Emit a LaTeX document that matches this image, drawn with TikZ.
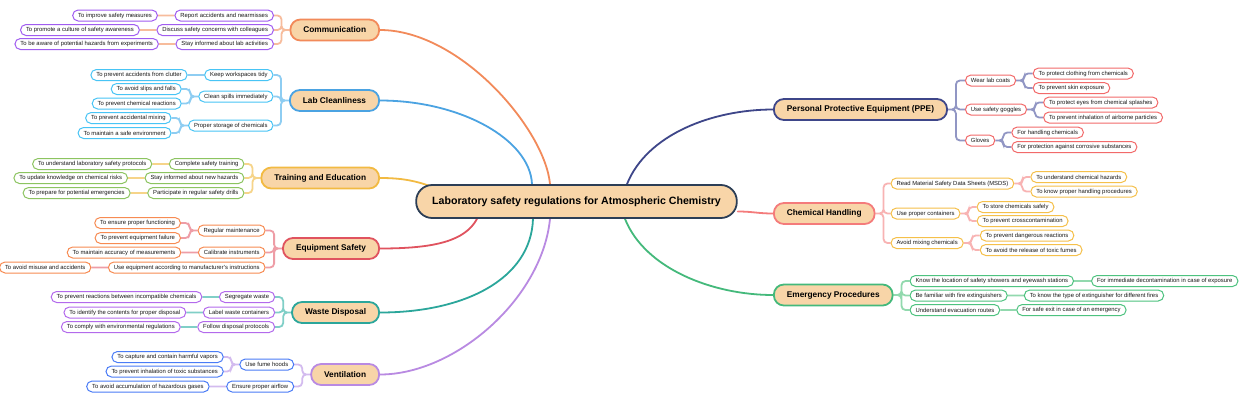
\documentclass[tikz,border=0pt]{standalone}
\usepackage{fontspec}
\setmainfont{Liberation Sans}
\usetikzlibrary{calc,backgrounds}
\definecolor{peach}{HTML}{F8D5A8}
\definecolor{rootc}{HTML}{2C3E56}
\definecolor{commc}{HTML}{F28A5A}
\definecolor{commk}{HTML}{A05CF0}
\definecolor{comml}{HTML}{F7BC9C}
\definecolor{labc}{HTML}{4BA3E2}
\definecolor{labk}{HTML}{48C4F5}
\definecolor{labl}{HTML}{8ECDF2}
\definecolor{trainc}{HTML}{F2BA42}
\definecolor{traink}{HTML}{8CC460}
\definecolor{trainl}{HTML}{F6D489}
\definecolor{equipc}{HTML}{E0535F}
\definecolor{equipk}{HTML}{F78B52}
\definecolor{equipl}{HTML}{EE9DA6}
\definecolor{wastec}{HTML}{2BA69B}
\definecolor{wastek}{HTML}{B36AEC}
\definecolor{wastel}{HTML}{80CFC7}
\definecolor{ventc}{HTML}{B98AE2}
\definecolor{ventk}{HTML}{4A7CF6}
\definecolor{ventl}{HTML}{D3BBEF}
\definecolor{ppec}{HTML}{3E4689}
\definecolor{ppek}{HTML}{F26A6A}
\definecolor{ppel}{HTML}{9196C4}
\definecolor{chemc}{HTML}{F47B7B}
\definecolor{chemk}{HTML}{F5C04A}
\definecolor{cheml}{HTML}{F8B3B3}
\definecolor{emergc}{HTML}{44B97B}
\definecolor{emergk}{HTML}{4DC27F}
\definecolor{emergl}{HTML}{92D9AE}
\begin{document}
\begin{tikzpicture}[x=1pt,y=-1pt,
  rootnode/.style={draw=rootc, fill=peach, line width=1.8pt, rounded corners=16pt,
    minimum height=33pt, inner xsep=16pt, inner ysep=0pt, text=black,
    font=\bfseries\fontsize{10.6}{12}\selectfont},
  mainnode/.style={draw=#1, fill=peach, line width=1.8pt, rounded corners=10pt,
    minimum height=21pt, inner xsep=13pt, inner ysep=0pt, text=black,
    font=\bfseries\fontsize{8.3}{10}\selectfont},
  subnode/.style={draw=#1, fill=white, line width=1pt, rounded corners=5.5pt,
    minimum height=11pt, inner xsep=5.5pt, inner ysep=0pt, text=black!90,
    font=\fontsize{5.9}{7}\selectfont},
  rootln/.style={draw=#1, line width=1.8pt, line cap=round},
  subln/.style={draw=#1, line width=1.8pt, rounded corners=4pt},
  elL/.style={to path={-- ++(-8,0) |- (\tikztotarget)}},
  elR/.style={to path={-- ++(8,0) |- (\tikztotarget)}}
]
\useasboundingbox (0,0) rectangle (1240,400);

\node[rootnode] (root) at (576.5,201.5) {Laboratory safety regulations for Atmospheric Chemistry};

% ---------- Communication
\node[mainnode=commc, anchor=east] (comm) at (380,30) {Communication};
\node[subnode=commk, anchor=east] (comm1) at ($(comm.west)+(-15.5,-14.5)$) {Report accidents and nearmisses};
\node[subnode=commk, anchor=east] (comm2) at ($(comm.west)+(-15.5,0)$) {Discuss safety concerns with colleagues};
\node[subnode=commk, anchor=east] (comm3) at ($(comm.west)+(-15.5,14)$) {Stay informed about lab activities};
\node[subnode=commk, anchor=east] (comm1a) at ($(comm1.west)+(-16.5,0)$) {To improve safety measures};
\node[subnode=commk, anchor=east] (comm2a) at ($(comm2.west)+(-16.5,0)$) {To promote a culture of safety awareness};
\node[subnode=commk, anchor=east] (comm3a) at ($(comm3.west)+(-16.5,0)$) {To be aware of potential hazards from experiments};

% ---------- Lab Cleanliness
\node[mainnode=labc, anchor=east] (lab) at (380,100.5) {Lab Cleanliness};
\node[subnode=labk, anchor=east] (lab1) at ($(lab.west)+(-15.5,-25.5)$) {Keep workspaces tidy};
\node[subnode=labk, anchor=east] (lab2) at ($(lab.west)+(-15.5,-4)$) {Clean spills immediately};
\node[subnode=labk, anchor=east] (lab3) at ($(lab.west)+(-15.5,25)$) {Proper storage of chemicals};
\node[subnode=labk, anchor=east] (lab1a) at ($(lab1.west)+(-16.5,0)$) {To prevent accidents from clutter};
\node[subnode=labk, anchor=east] (lab2a) at ($(lab2.west)+(-16.5,-7.5)$) {To avoid slips and falls};
\node[subnode=labk, anchor=east] (lab2b) at ($(lab2.west)+(-16.5,7)$) {To prevent chemical reactions};
\node[subnode=labk, anchor=east] (lab3a) at ($(lab3.west)+(-16.5,-7.5)$) {To prevent accidental mixing};
\node[subnode=labk, anchor=east] (lab3b) at ($(lab3.west)+(-16.5,7.5)$) {To maintain a safe environment};

% ---------- Training and Education
\node[mainnode=trainc, anchor=east] (train) at (380,178) {Training and Education};
\node[subnode=traink, anchor=east] (train1) at ($(train.west)+(-16,-14)$) {Complete safety training};
\node[subnode=traink, anchor=east] (train2) at ($(train.west)+(-16,0)$) {Stay informed about new hazards};
\node[subnode=traink, anchor=east] (train3) at ($(train.west)+(-16,15)$) {Participate in regular safety drills};
\node[subnode=traink, anchor=east] (train1a) at ($(train1.west)+(-16.5,0)$) {To understand laboratory safety protocols};
\node[subnode=traink, anchor=east] (train2a) at ($(train2.west)+(-16.5,0)$) {To update knowledge on chemical risks};
\node[subnode=traink, anchor=east] (train3a) at ($(train3.west)+(-16.5,0)$) {To prepare for potential emergencies};

% ---------- Equipment Safety
\node[mainnode=equipc, anchor=east] (equip) at (380,248.5) {Equipment Safety};
\node[subnode=equipk, anchor=east] (equip1) at ($(equip.west)+(-16.5,-18)$) {Regular maintenance};
\node[subnode=equipk, anchor=east] (equip2) at ($(equip.west)+(-16.5,4)$) {Calibrate instruments};
\node[subnode=equipk, anchor=east] (equip3) at ($(equip.west)+(-16.5,19)$) {Use equipment according to manufacturer's instructions};
\node[subnode=equipk, anchor=east] (equip1a) at ($(equip1.west)+(-16.5,-7.5)$) {To ensure proper functioning};
\node[subnode=equipk, anchor=east] (equip1b) at ($(equip1.west)+(-16.5,7.5)$) {To prevent equipment failure};
\node[subnode=equipk, anchor=east] (equip2a) at ($(equip2.west)+(-16.5,0)$) {To maintain accuracy of measurements};
\node[subnode=equipk, anchor=east] (equip3a) at ($(equip3.west)+(-16.5,0)$) {To avoid misuse and accidents};

% ---------- Waste Disposal
\node[mainnode=wastec, anchor=east] (waste) at (380,312.5) {Waste Disposal};
\node[subnode=wastek, anchor=east] (waste1) at ($(waste.west)+(-16,-15.5)$) {Segregate waste};
\node[subnode=wastek, anchor=east] (waste2) at ($(waste.west)+(-16,0)$) {Label waste containers};
\node[subnode=wastek, anchor=east] (waste3) at ($(waste.west)+(-16,14.5)$) {Follow disposal protocols};
\node[subnode=wastek, anchor=east] (waste1a) at ($(waste1.west)+(-16.5,0)$) {To prevent reactions between incompatible chemicals};
\node[subnode=wastek, anchor=east] (waste2a) at ($(waste2.west)+(-16.5,0)$) {To identify the contents for proper disposal};
\node[subnode=wastek, anchor=east] (waste3a) at ($(waste3.west)+(-16.5,0)$) {To comply with environmental regulations};

% ---------- Ventilation
\node[mainnode=ventc, anchor=east] (vent) at (380,374.5) {Ventilation};
\node[subnode=ventk, anchor=east] (vent1) at ($(vent.west)+(-16,-10)$) {Use fume hoods};
\node[subnode=ventk, anchor=east] (vent2) at ($(vent.west)+(-16,12)$) {Ensure proper airflow};
\node[subnode=ventk, anchor=east] (vent1a) at ($(vent1.west)+(-15.5,-7.5)$) {To capture and contain harmful vapors};
\node[subnode=ventk, anchor=east] (vent1b) at ($(vent1.west)+(-15.5,7)$) {To prevent inhalation of toxic substances};
\node[subnode=ventk, anchor=east] (vent2a) at ($(vent2.west)+(-16.5,0)$) {To avoid accumulation of hazardous gases};

% ---------- PPE
\node[mainnode=ppec, anchor=west] (ppe) at (773,109.5) {Personal Protective Equipment (PPE)};
\node[subnode=ppek, anchor=west] (ppe1) at ($(ppe.east)+(17,-29)$) {Wear lab coats};
\node[subnode=ppek, anchor=west] (ppe2) at ($(ppe.east)+(17,0)$) {Use safety goggles};
\node[subnode=ppek, anchor=west] (ppe3) at ($(ppe.east)+(17,31)$) {Gloves};
\node[subnode=ppek, anchor=west] (ppe1a) at ($(ppe1.east)+(16.5,-7)$) {To protect clothing from chemicals};
\node[subnode=ppek, anchor=west] (ppe1b) at ($(ppe1.east)+(16.5,7.5)$) {To prevent skin exposure};
\node[subnode=ppek, anchor=west] (ppe2a) at ($(ppe2.east)+(16,-7)$) {To protect eyes from chemical splashes};
\node[subnode=ppek, anchor=west] (ppe2b) at ($(ppe2.east)+(16,8)$) {To prevent inhalation of airborne particles};
\node[subnode=ppek, anchor=west] (ppe3a) at ($(ppe3.east)+(16,-8)$) {For handling chemicals};
\node[subnode=ppek, anchor=west] (ppe3b) at ($(ppe3.east)+(16,6.5)$) {For protection against corrosive substances};

% ---------- Chemical Handling
\node[mainnode=chemc, anchor=west] (chem) at (773,213.5) {Chemical Handling};
\node[subnode=chemk, anchor=west] (chem1) at ($(chem.east)+(15,-30)$) {Read Material Safety Data Sheets (MSDS)};
\node[subnode=chemk, anchor=west] (chem2) at ($(chem.east)+(15,0)$) {Use proper containers};
\node[subnode=chemk, anchor=west] (chem3) at ($(chem.east)+(15,29.5)$) {Avoid mixing chemicals};
\node[subnode=chemk, anchor=west] (chem1a) at ($(chem1.east)+(16,-6.5)$) {To understand chemical hazards};
\node[subnode=chemk, anchor=west] (chem1b) at ($(chem1.east)+(16,8)$) {To know proper handling procedures};
\node[subnode=chemk, anchor=west] (chem2a) at ($(chem2.east)+(16,-6.5)$) {To store chemicals safely};
\node[subnode=chemk, anchor=west] (chem2b) at ($(chem2.east)+(16,7.5)$) {To prevent crosscontamination};
\node[subnode=chemk, anchor=west] (chem3a) at ($(chem3.east)+(16,-7.5)$) {To prevent dangerous reactions};
\node[subnode=chemk, anchor=west] (chem3b) at ($(chem3.east)+(16,7)$) {To avoid the release of toxic fumes};

% ---------- Emergency Procedures
\node[mainnode=emergc, anchor=west] (emerg) at (773,295) {Emergency Procedures};
\node[subnode=emergk, anchor=west] (emerg1) at ($(emerg.east)+(16,-14)$) {Know the location of safety showers and eyewash stations};
\node[subnode=emergk, anchor=west] (emerg2) at ($(emerg.east)+(16,0.5)$) {Be familiar with fire extinguishers};
\node[subnode=emergk, anchor=west] (emerg3) at ($(emerg.east)+(16,15)$) {Understand evacuation routes};
\node[subnode=emergk, anchor=west] (emerg1a) at ($(emerg1.east)+(17,0)$) {For immediate decontamination in case of exposure};
\node[subnode=emergk, anchor=west] (emerg2a) at ($(emerg2.east)+(16,0)$) {To know the type of extinguisher for different fires};
\node[subnode=emergk, anchor=west] (emerg3a) at ($(emerg3.east)+(16,0)$) {For safe exit in case of an emergency};

\begin{pgfonlayer}{background}
\fill[white] (0,0) rectangle (1240,400);
% root edges
\draw[rootln=commc] ([xshift=-26.5pt]root.north) .. controls +(-5,-55) and +(80,0) .. (comm.east);
\draw[rootln=labc] ([xshift=-44.5pt]root.north) .. controls +(-2,-45) and +(80,0) .. (lab.east);
\draw[rootln=trainc] ([xshift=20pt,yshift=-4pt]root.north west) .. controls +(-20,-8) and +(20,0) .. (train.east);
\draw[rootln=equipc] ([xshift=-99.5pt]root.south) .. controls +(-12,22) and +(55,0) .. (equip.east);
\draw[rootln=wastec] ([xshift=-43.5pt]root.south) .. controls +(-2,60) and +(85,0) .. (waste.east);
\draw[rootln=ventc] ([xshift=-26.5pt]root.south) .. controls +(-8,80) and +(75,0) .. (vent.east);
\draw[rootln=ppec] ([xshift=50.5pt]root.north) .. controls +(20,-50) and +(-60,0) .. (ppe.west);
\draw[rootln=chemc] ([yshift=-10pt]root.east) .. controls +(15,0) and +(-15,0) .. (chem.west);
\draw[rootln=emergc] ([xshift=48.5pt]root.south) .. controls +(20,50) and +(-60,0) .. (emerg.west);
% sub connectors left
\draw[subln=comml] (comm.west) to[elL] (comm1.east) (comm.west) to[elL] (comm2.east) (comm.west) to[elL] (comm3.east)
  (comm1.west) -- (comm1a.east) (comm2.west) -- (comm2a.east) (comm3.west) -- (comm3a.east);
\draw[subln=labl] (lab.west) to[elL] (lab1.east) (lab.west) to[elL] (lab2.east) (lab.west) to[elL] (lab3.east)
  (lab1.west) -- (lab1a.east) (lab2.west) to[elL] (lab2a.east) (lab2.west) to[elL] (lab2b.east)
  (lab3.west) to[elL] (lab3a.east) (lab3.west) to[elL] (lab3b.east);
\draw[subln=trainl] (train.west) to[elL] (train1.east) (train.west) to[elL] (train2.east) (train.west) to[elL] (train3.east)
  (train1.west) -- (train1a.east) (train2.west) -- (train2a.east) (train3.west) -- (train3a.east);
\draw[subln=equipl] (equip.west) to[elL] (equip1.east) (equip.west) to[elL] (equip2.east) (equip.west) to[elL] (equip3.east)
  (equip1.west) to[elL] (equip1a.east) (equip1.west) to[elL] (equip1b.east)
  (equip2.west) -- (equip2a.east) (equip3.west) -- (equip3a.east);
\draw[subln=wastel] (waste.west) to[elL] (waste1.east) (waste.west) to[elL] (waste2.east) (waste.west) to[elL] (waste3.east)
  (waste1.west) -- (waste1a.east) (waste2.west) -- (waste2a.east) (waste3.west) -- (waste3a.east);
\draw[subln=ventl] (vent.west) to[elL] (vent1.east) (vent.west) to[elL] (vent2.east)
  (vent1.west) to[elL] (vent1a.east) (vent1.west) to[elL] (vent1b.east) (vent2.west) -- (vent2a.east);
% sub connectors right
\draw[subln=ppel] (ppe.east) to[elR] (ppe1.west) (ppe.east) to[elR] (ppe2.west) (ppe.east) to[elR] (ppe3.west)
  (ppe1.east) to[elR] (ppe1a.west) (ppe1.east) to[elR] (ppe1b.west)
  (ppe2.east) to[elR] (ppe2a.west) (ppe2.east) to[elR] (ppe2b.west)
  (ppe3.east) to[elR] (ppe3a.west) (ppe3.east) to[elR] (ppe3b.west);
\draw[subln=cheml] (chem.east) to[elR] (chem1.west) (chem.east) to[elR] (chem2.west) (chem.east) to[elR] (chem3.west)
  (chem1.east) to[elR] (chem1a.west) (chem1.east) to[elR] (chem1b.west)
  (chem2.east) to[elR] (chem2a.west) (chem2.east) to[elR] (chem2b.west)
  (chem3.east) to[elR] (chem3a.west) (chem3.east) to[elR] (chem3b.west);
\draw[subln=emergl] (emerg.east) to[elR] (emerg1.west) (emerg.east) to[elR] (emerg2.west) (emerg.east) to[elR] (emerg3.west)
  (emerg1.east) -- (emerg1a.west) (emerg2.east) -- (emerg2a.west) (emerg3.east) -- (emerg3a.west);
\end{pgfonlayer}
\end{tikzpicture}
\end{document}
